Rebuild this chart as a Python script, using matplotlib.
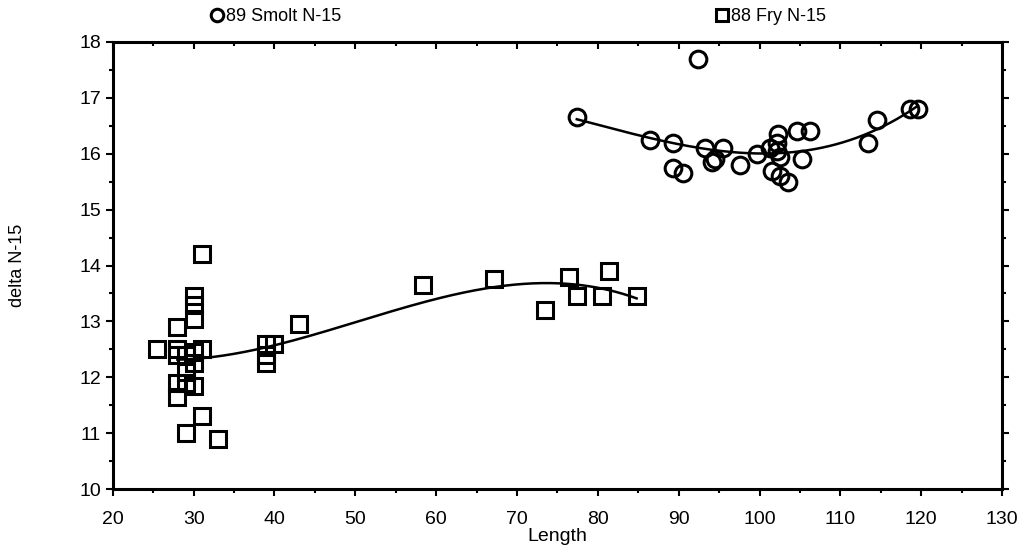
import numpy as np
import matplotlib.pyplot as plt
from matplotlib.ticker import MultipleLocator

plt.rcParams['font.family'] = ['Liberation Sans', 'DejaVu Sans']

# 88 Fry N-15 (squares)
fry_length = [25.5, 28, 28, 28, 28, 28, 29, 29, 29, 29, 30, 30, 30, 30, 30, 30,
              31, 31, 31, 33, 39, 39, 39, 40, 43, 58.4, 67.2, 73.5, 76.4, 77.4,
              80.5, 81.4, 84.8]
fry_n15 = [12.5, 12.9, 12.5, 12.4, 11.9, 11.65, 12.4, 12.1, 11.9, 11.0, 13.45,
           13.3, 13.05, 12.45, 12.25, 11.85, 14.2, 12.5, 11.3, 10.9, 12.6, 12.4,
           12.25, 12.6, 12.95, 13.65, 13.75, 13.2, 13.8, 13.45, 13.45, 13.9, 13.45]

# 89 Smolt N-15 (circles)
smolt_length = [77.4, 92.4, 86.5, 89.3, 89.3, 90.5, 93.3, 95.5, 94.1, 94.5,
                97.6, 99.7, 102.3, 102.2, 102.2, 102.5, 101.6, 102.5, 103.5,
                104.6, 106.3, 105.3, 101.3, 113.4, 114.5, 118.6, 119.6]
smolt_n15 = [16.65, 17.7, 16.25, 16.2, 15.75, 15.65, 16.1, 16.1, 15.85, 15.9,
             15.8, 16.0, 16.35, 16.2, 16.05, 15.95, 15.7, 15.6, 15.5,
             16.4, 16.4, 15.9, 16.1, 16.2, 16.6, 16.8, 16.8]

fig = plt.figure(figsize=(10.25, 5.57), dpi=100)
ax = fig.add_axes([0.110, 0.122, 0.8676, 0.8026])

# polynomial fits drawn through the scatter
fx = np.linspace(min(fry_length) + 2.5, max(fry_length), 200)
ax.plot(fx, np.polyval(np.polyfit(fry_length, fry_n15, 3), fx), color='black', lw=1.8)
sx = np.linspace(min(smolt_length), max(smolt_length), 200)
ax.plot(sx, np.polyval(np.polyfit(smolt_length, smolt_n15, 3), sx), color='black', lw=1.8)

ax.plot(smolt_length, smolt_n15, 'o', ms=12, mfc='none', mec='black', mew=2.2,
        label='89 Smolt N-15')
ax.plot(fry_length, fry_n15, 's', ms=12, mfc='none', mec='black', mew=2.2,
        label='88 Fry N-15')

ax.set_xlim(20, 130)
ax.set_ylim(10, 18)
ax.xaxis.set_major_locator(MultipleLocator(10))
ax.xaxis.set_minor_locator(MultipleLocator(5))
ax.yaxis.set_major_locator(MultipleLocator(1))
ax.yaxis.set_minor_locator(MultipleLocator(0.5))
ax.tick_params(which='both', direction='out', width=1.5, right=True, labelsize=14)
ax.tick_params(which='major', length=5)
ax.tick_params(which='minor', length=3)
ax.tick_params(axis='x', which='major', pad=11)
for s in ax.spines.values():
    s.set_linewidth(2.2)

top = ax.secondary_xaxis('top')
top.xaxis.set_major_locator(MultipleLocator(10))
top.xaxis.set_minor_locator(MultipleLocator(5))
top.tick_params(which='both', direction='in', width=1.5, labeltop=False)
top.tick_params(which='major', length=5)
top.tick_params(which='minor', length=3)

ax.set_xlabel('Length', fontsize=14, labelpad=0)
ax.set_ylabel('delta N-15', fontsize=13, labelpad=38)

ax.legend(loc='center left', bbox_to_anchor=(0.103, 1.056), ncol=2, frameon=False,
          fontsize=13, markerscale=0.75, handlelength=0.6, handletextpad=0.2,
          columnspacing=20.8, borderaxespad=0)

fig.savefig('out.png', dpi=100)
